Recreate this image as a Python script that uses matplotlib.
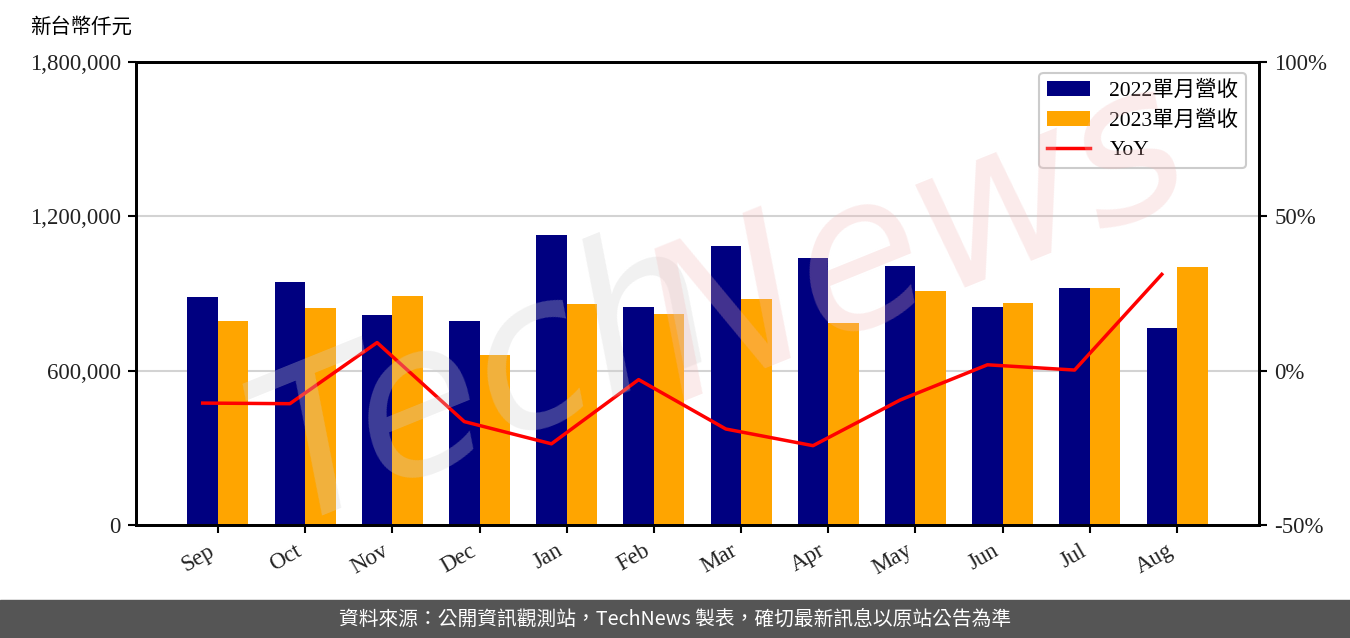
import numpy as np
import matplotlib
matplotlib.use("Agg")
import matplotlib.pyplot as plt
from matplotlib.ticker import FuncFormatter

months = ["Sep", "Oct", "Nov", "Dec", "Jan", "Feb", "Mar", "Apr", "May", "Jun", "Jul", "Aug"]
rev_2022 = [886400, 944700, 816400, 793100, 1127400, 847500, 1084700, 1038000, 1006900, 847500, 921400, 765900]
rev_2023 = [793100, 843600, 890300, 660900, 859200, 820300, 878600, 785300, 909700, 863100, 921400, 1003000]
yoy = [-10.5, -10.7, 9.1, -16.5, -23.7, -2.9, -18.9, -24.3, -9.5, 1.9, 0.2, 31.2]

serif = ["Liberation Serif", "Noto Sans CJK TC"]
cjk = ["Noto Sans CJK TC", "DejaVu Sans"]

fig = plt.figure(figsize=(13.5, 6.38), dpi=100)
ax = fig.add_axes([136/1350, 1-525/638, (1259-136)/1350, (525-62)/638])

x = np.arange(len(months))
w = 0.35
ax.bar(x - w/2, rev_2022, width=w, color="#000080", label="2022單月營收", zorder=2)
ax.bar(x + w/2, rev_2023, width=w, color="#FFA500", label="2023單月營收", zorder=2)
ax.set_ylim(0, 1800000)
ax.set_yticks([0, 600000, 1200000, 1800000])
ax.yaxis.set_major_formatter(FuncFormatter(lambda v, p: f"{int(v):,}"))
ax.set_xlim(-0.94, 11.94)
ax.set_xticks(x)
ax.set_xticklabels(months, rotation=30, ha="right")
ax.grid(axis="y", color="#d3d3d3", linewidth=1.5, zorder=0)
ax.set_axisbelow(True)

ax2 = ax.twinx()
line, = ax2.plot(x - w/2, yoy, color="#FF0000", linewidth=2.5, label="YoY", zorder=3)
ax2.set_ylim(-50, 100)
ax2.set_yticks([-50, 0, 50, 100])
ax2.yaxis.set_major_formatter(FuncFormatter(lambda v, p: f"{int(v)}%"))

for a in (ax, ax2):
    for s in a.spines.values():
        s.set_linewidth(2)
        s.set_color("black")
    a.tick_params(axis="both", length=6, width=1.5, labelsize=16.5, pad=5)
    for lab in a.get_xticklabels() + a.get_yticklabels():
        lab.set_fontfamily(serif)
        lab.set_color("#222222")

h1, l1 = ax.get_legend_handles_labels()
leg = ax2.legend(h1 + [line], l1 + ["YoY"], loc="upper right", prop={"family": serif, "size": 15.5},
                 frameon=True, fancybox=True, edgecolor="#cccccc", framealpha=1,
                 borderpad=0.35, labelspacing=0.45, handlelength=2.0, handletextpad=0.9,
                 borderaxespad=0, bbox_to_anchor=((1246-136)/1123, (525-73)/463))
leg.get_frame().set_linewidth(1.5)

fig.text(30/1350, 1-27/638, "新台幣仟元", fontfamily=cjk, fontsize=14.7, va="center", ha="left")

# Watermark
fig.text(0.36, 0.40, "Tech", fontsize=150, fontstyle="italic", color="#d0d0d0", alpha=0.3,
         rotation=22, ha="center", va="center", fontfamily="DejaVu Sans", zorder=10)
fig.text(0.68, 0.62, "News", fontsize=150, fontstyle="italic", color="#f2b8b8", alpha=0.28,
         rotation=22, ha="center", va="center", fontfamily="DejaVu Sans", zorder=10)

# Footer band
fig.patches.append(plt.Rectangle((0, 0), 1, 38/638, transform=fig.transFigure,
                                 color="#555555", zorder=0))
fig.text(0.5, 19/638, "資料來源：公開資訊觀測站，TechNews 製表，確切最新訊息以原站公告為準",
         fontfamily=cjk, fontsize=14.2, color="white", ha="center", va="center")

fig.savefig("out.png", dpi=100)
